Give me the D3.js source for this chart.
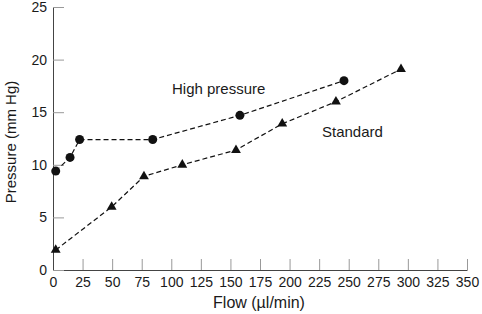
<!DOCTYPE html>
<html>
<head>
<meta charset="utf-8">
<script src="https://cdn.jsdelivr.net/npm/d3@7"></script>
<style>
  body { margin: 0; background: #fff; }
  svg text { font-family: "Liberation Sans", Arial, sans-serif; fill: #1a1a1a; }
  .axis .domain { stroke: #444; }
  .axis .tick line { stroke: #999; }
</style>
</head>
<body>
<div id="chart"></div>
<script>
// High pressure series (circles)
var highFlow = [2.3, 14.4, 22.5, 84.3, 158, 246];
var highPressure = [9.4, 10.7, 12.4, 12.4, 14.7, 18.0];

// Standard series (triangles)
var stdFlow = [2.3, 49.6, 76.9, 109.3, 154.7, 193.8, 239.2, 294.2];
var stdPressure = [1.9, 6.0, 8.9, 10.0, 11.4, 13.9, 16.0, 19.1];

var xTicks = [0, 25, 50, 75, 100, 125, 150, 175, 200, 225, 250, 275, 300, 325, 350];
var yTicks = [0, 5, 10, 15, 20, 25];

var width = 482, height = 314;
var margin = { top: 7, right: 15, bottom: 44, left: 53 };

var svg = d3.select("#chart")
    .append("svg")
    .attr("width", width)
    .attr("height", height);

var x = d3.scaleLinear()
    .domain([0, 350])
    .range([margin.left, 467]);

var y = d3.scaleLinear()
    .domain([0, 25])
    .range([height - margin.bottom, margin.top]);

// axes, ticks point inward
svg.append("g")
    .attr("class", "axis")
    .attr("transform", "translate(0," + y(0) + ")")
    .call(d3.axisBottom(x).tickValues(xTicks).tickSize(-11).tickSizeOuter(0).tickPadding(7))
    .selectAll("text")
    .style("font-size", "14px");

svg.append("g")
    .attr("class", "axis")
    .attr("transform", "translate(" + x(0) + ",0)")
    .call(d3.axisLeft(y).tickValues(yTicks).tickSize(-11).tickSizeOuter(0).tickPadding(6))
    .selectAll("text")
    .style("font-size", "14px");

var line = d3.line()
    .x(function (d) { return x(d[0]); })
    .y(function (d) { return y(d[1]); });

var high = highFlow.map(function (f, i) { return [f, highPressure[i]]; });
var std = stdFlow.map(function (f, i) { return [f, stdPressure[i]]; });

[high, std].forEach(function (pts) {
    svg.append("path")
        .datum(pts)
        .attr("d", line)
        .attr("fill", "none")
        .attr("stroke", "#111")
        .attr("stroke-width", 1.2)
        .attr("stroke-dasharray", "5,3");
});

svg.selectAll(".dot")
    .data(high)
    .enter()
    .append("circle")
    .attr("class", "dot")
    .attr("cx", function (d) { return x(d[0]); })
    .attr("cy", function (d) { return y(d[1]); })
    .attr("r", 4.5)
    .attr("fill", "#111");

var tri = d3.symbol().type(d3.symbolTriangle).size(42);
svg.selectAll(".tri")
    .data(std)
    .enter()
    .append("path")
    .attr("class", "tri")
    .attr("d", tri)
    .attr("transform", function (d) { return "translate(" + x(d[0]) + "," + y(d[1]) + ")"; })
    .attr("fill", "#111");

// series labels
svg.append("text")
    .attr("x", x(100.6))
    .attr("y", y(16.7))
    .style("font-size", "15px")
    .text("High pressure");

svg.append("text")
    .attr("x", x(227.4))
    .attr("y", y(12.6))
    .style("font-size", "15px")
    .text("Standard");

// axis titles
svg.append("text")
    .attr("x", 259)
    .attr("y", 308)
    .style("text-anchor", "middle")
    .style("font-size", "16px")
    .text("Flow (\u00b5l/min)");

svg.append("text")
    .attr("transform", "translate(16,142) rotate(-90)")
    .style("text-anchor", "middle")
    .style("font-size", "15px")
    .text("Pressure (mm Hg)");
</script>
</body>
</html>
